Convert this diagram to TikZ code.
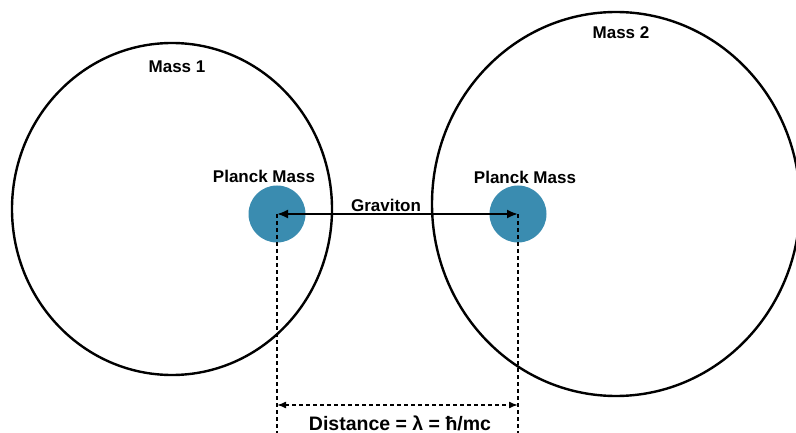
\documentclass[tikz,border=0pt]{standalone}
\usepackage{fontspec}
\setmainfont{Liberation Sans}
\usetikzlibrary{arrows.meta}
\definecolor{planckblue}{RGB}{58,140,176}
\begin{document}
\begin{tikzpicture}[x=1pt,y=-1pt,
		lbl/.style={font=\bfseries\fontsize{17}{20}\selectfont},
		planck/.style={circle,fill=planckblue,minimum size=57pt,inner sep=0pt},
		dashln/.style={line width=1.6pt, dash pattern=on 4pt off 3pt}]
		\useasboundingbox (0,0) rectangle (796,433);
		% the two masses
		\draw[line width=2.4pt] (172,209) ellipse [x radius=160, y radius=166];
		\draw[line width=2.4pt] (616,204) ellipse [x radius=184, y radius=192];
		\node[lbl] (m1) at (177,67) {Mass 1};
		\node[lbl] (m2) at (621,33) {Mass 2};
		
		\node[planck] (lp) at (277,214) {};
		\node[planck] (rp) at (518,214) {};
		\node[lbl] (lpl) at (264,176) {Planck Mass};
		\node[lbl] (rpl) at (525,177) {Planck Mass};
		
		\draw[line width=2pt, {Latex[length=11pt,width=9pt]}-{Latex[length=11pt,width=9pt]}] (lp.center) -- (rp.center);
		\node[lbl] (grav) at (386,205) {Graviton};
		
		% distance
		\coordinate (lb) at (277,433);
		\coordinate (rb) at (518,433);
		\coordinate (ld) at (277,405);
		\coordinate (rd) at (518,405);
		\draw[dashln] (lp.center) -- (lb);
		\draw[dashln] (rp.center) -- (rb);
		\draw[dashln, {Latex[length=9pt,width=7pt]}-{Latex[length=9pt,width=7pt]}] (ld) -- (rd);
		\node[font=\bfseries\fontsize{19.5}{22}\selectfont] (dist) at (400,423) {Distance = λ = ħ/mc};
	\end{tikzpicture}
\end{document}
